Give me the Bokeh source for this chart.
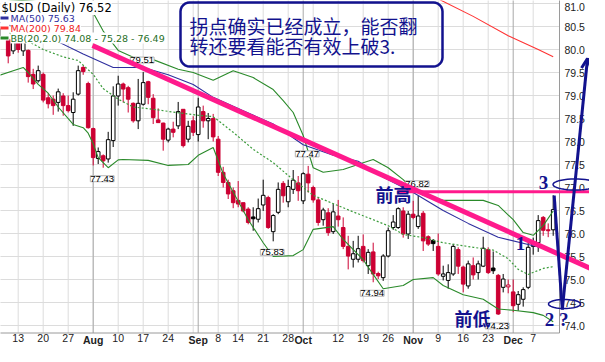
import numpy as np
import pandas as pd
from bokeh.plotting import figure
from bokeh.models import (FixedTicker, Label, Arrow, OpenHead, PolyAnnotation,
                          BoxAnnotation, ColumnDataSource)
from bokeh.embed import file_html
from bokeh.resources import INLINE

# ---------------- data ----------------
holidays = ["2009-09-07", "2009-11-26"]
dates = [d for d in pd.bdate_range("2009-07-07", "2009-12-11")
         if d.strftime("%Y-%m-%d") not in holidays]

opens = [80.30, 80.50, 80.22, 79.97, 80.22, 79.97, 79.98, 79.46, 79.32, 79.46,
         78.95, 78.92, 78.85, 78.99, 78.78, 78.63, 79.03, 79.61, 79.26, 78.28,
         77.63, 77.69, 77.62, 78.02, 78.99, 79.25, 79.17, 78.83, 78.45, 78.81,
         79.30, 78.94, 78.47, 78.40, 78.03, 78.27, 78.34, 78.70, 78.05, 78.45,
         78.15, 78.65, 78.45, 78.50, 78.05, 77.33, 77.11, 76.93, 76.72, 76.67,
         76.53, 76.36, 76.31, 76.62, 76.78, 76.04, 76.46, 77.09, 76.69, 76.96,
         77.10, 76.71, 77.29, 77.00, 76.73, 76.30, 76.45, 76.04, 76.38, 76.13,
         75.72, 75.44, 75.44, 75.72, 75.30, 75.60, 75.13, 75.04, 75.51, 76.13,
         76.13, 76.49, 75.99, 76.42, 76.15, 76.44, 75.93, 75.85, 75.72, 75.07,
         74.98, 75.12, 75.65, 75.27, 74.86, 75.30, 75.15, 75.29, 75.65, 75.25,
         75.09, 74.83, 74.84, 74.73, 74.46, 74.57, 74.83, 75.72, 75.80, 76.35,
         76.08, 76.08]
highs = [80.55, 80.60, 80.35, 80.30, 80.30, 80.28, 80.00, 79.58, 79.65, 79.50,
         79.05, 79.00, 79.15, 79.05, 79.00, 79.07, 79.65, 79.65, 79.30, 78.30,
         77.87, 77.72, 78.21, 79.20, 79.43, 79.28, 79.21, 78.85, 79.36, 79.51,
         79.32, 79.03, 78.72, 78.41, 78.30, 78.43, 78.86, 78.70, 78.45, 78.55,
         78.95, 78.78, 78.62, 78.60, 78.12, 77.45, 77.17, 77.00, 77.14, 76.67,
         76.57, 76.57, 76.76, 77.17, 76.82, 76.42, 77.11, 77.14, 77.17, 77.38,
         77.25, 77.33, 77.47, 77.04, 76.78, 76.56, 76.55, 76.64, 76.73, 76.35,
         75.95, 75.84, 75.95, 75.98, 75.66, 75.80, 75.17, 75.55, 76.13, 76.40,
         76.57, 76.57, 76.49, 76.71, 76.82, 76.49, 75.96, 75.88, 76.00, 75.30,
         75.33, 75.77, 75.70, 75.30, 75.41, 75.48, 75.41, 75.93, 75.70, 75.61,
         75.12, 75.12, 75.00, 75.00, 74.75, 74.83, 75.80, 75.91, 76.40, 76.38,
         76.22, 76.83]
lows = [80.04, 80.30, 79.70, 79.90, 79.93, 79.86, 79.28, 79.14, 79.28, 78.85,
        78.72, 78.58, 78.65, 78.56, 78.63, 78.34, 79.00, 79.45, 78.28, 77.48,
        77.51, 77.43, 77.54, 77.88, 78.78, 78.85, 78.63, 78.41, 78.27, 78.78,
        78.81, 78.38, 78.41, 77.80, 77.98, 78.09, 78.27, 77.87, 77.98, 78.12,
        78.00, 78.30, 78.05, 78.00, 77.25, 77.00, 76.75, 76.55, 76.57, 76.46,
        76.20, 76.06, 76.24, 76.49, 76.10, 75.83, 76.42, 76.67, 76.57, 76.86,
        76.71, 76.64, 76.89, 76.67, 76.17, 76.17, 75.95, 75.99, 76.15, 75.66,
        75.22, 75.26, 75.37, 75.37, 75.12, 74.94, 75.01, 74.97, 75.48, 76.08,
        76.10, 75.91, 75.88, 76.31, 76.10, 75.62, 75.73, 75.62, 75.08, 74.98,
        74.80, 75.08, 75.12, 74.72, 74.80, 75.00, 75.00, 75.27, 75.12, 75.12,
        74.23, 74.72, 74.70, 74.29, 74.32, 74.41, 74.79, 75.54, 75.60, 75.95,
        75.92, 75.95]
closes = [80.45, 80.35, 79.86, 80.21, 80.00, 80.15, 79.41, 79.25, 79.54, 78.90,
          78.82, 78.78, 79.08, 78.78, 78.67, 78.92, 79.54, 79.52, 78.30, 77.65,
          77.78, 77.58, 78.04, 78.99, 79.25, 79.14, 78.92, 78.45, 78.83, 79.28,
          78.96, 78.52, 78.41, 78.05, 78.27, 78.20, 78.65, 77.91, 78.33, 78.20,
          78.75, 78.45, 78.50, 78.10, 77.33, 77.11, 76.86, 76.67, 76.64, 76.49,
          76.24, 76.32, 76.54, 76.83, 76.13, 76.39, 76.96, 76.82, 77.02, 77.16,
          76.93, 77.30, 77.10, 76.73, 76.24, 76.51, 76.02, 76.47, 76.30, 75.72,
          75.51, 75.56, 75.67, 75.41, 75.59, 75.12, 75.08, 75.51, 76.06, 76.25,
          76.54, 75.99, 76.42, 76.35, 76.38, 75.84, 75.77, 75.78, 75.12, 75.12,
          75.15, 75.72, 75.29, 74.90, 75.34, 75.10, 75.34, 75.68, 75.15, 75.19,
          74.25, 75.01, 74.88, 74.43, 74.67, 74.78, 75.70, 75.80, 76.28, 76.07,
          76.06, 76.52]

ma50_idx = [0, 6, 11, 17, 23, 29, 34, 39, 43, 49, 55, 61, 67, 72, 77, 83, 89, 94, 100, 106, 111]
ma50_val = [80.60, 80.40, 80.22, 79.90, 79.61, 79.61, 79.45, 79.24, 78.96, 78.67, 78.38,
            77.93, 77.70, 77.57, 77.22, 76.89, 76.50, 76.22, 75.92, 75.76, 75.63]

ma200_idx = [80, 88, 95, 102, 108, 111]
ma200_val = [81.40, 81.10, 80.72, 80.30, 80.00, 79.84]

bb_up_idx = [0, 7, 12, 15, 19, 21, 24, 27, 31, 36, 39, 43, 47, 51, 55, 57, 59, 61, 63, 65,
             69, 73, 75, 78, 81, 83, 85, 89, 97, 100, 103, 105, 107, 109, 111]
bb_up_val = [81.10, 81.05, 81.00, 80.93, 80.80, 80.40, 79.98, 79.83, 79.78, 79.57,
             79.50, 79.33, 79.54, 79.39, 79.13, 78.89, 78.63, 78.13, 77.43, 77.33,
             77.39, 77.54, 77.61, 77.43, 77.17, 76.96, 76.83, 76.72, 76.72, 76.61,
             76.30, 76.02, 75.96, 76.17, 76.49]
bb_mid_idx = [0, 5, 9, 13, 16, 19, 21, 24, 27, 31, 35, 40, 43, 47, 51, 55, 59, 63, 67, 71,
              75, 78, 81, 85, 89, 95, 99, 102, 104, 106, 109, 111]
bb_mid_val = [80.45, 80.24, 80.00, 79.84, 79.76, 79.46, 79.15, 78.92, 78.75, 78.70,
              78.64, 78.57, 78.54, 78.20, 77.83, 77.54, 77.17, 76.83, 76.65, 76.47,
              76.30, 76.17, 75.98, 75.91, 75.80, 75.70, 75.64, 75.45, 75.22, 75.11,
              75.24, 75.28]
bb_lo_idx = [0, 3, 5, 6, 8, 10, 12, 15, 17, 18, 19, 20, 22, 24, 25, 30, 34, 38, 40, 43,
             45, 48, 50, 53, 55, 59, 61, 63, 67, 69, 73, 75, 77, 81, 83, 87, 89, 93, 97, 100,
             103, 107, 109, 111]
bb_lo_val = [79.43, 79.54, 79.61, 79.50, 79.24, 79.05, 78.75, 78.37, 78.30, 78.18,
             77.95, 77.65, 77.43, 77.60, 77.61, 77.59, 77.48, 77.50, 77.70, 77.87,
             77.30, 76.70, 76.30, 75.80, 75.50, 75.52, 75.65, 76.09, 76.15, 75.87,
             75.43, 75.11, 74.80, 74.87, 75.00, 75.04, 74.87, 74.67, 74.57, 74.36,
             74.33, 74.28, 74.22, 74.08]

week_grid = [4, 9, 14, 19, 24, 29, 34, 39, 44, 48, 53, 58, 63, 68, 73, 78, 83, 88, 93, 98, 102, 107]
month_grid = [19, 40, 61, 83, 103]
tick_idx = [4, 9, 14, 19, 24, 29, 34, 40, 44, 48, 53, 58, 61, 68, 73, 78, 83, 88, 93, 98, 103, 107]
tick_lab = ["13", "20", "27", "Aug", "10", "17", "24", "Sep", "8", "14", "21", "28", "Oct",
            "12", "19", "26", "Nov", "9", "16", "23", "Dec", "7"]
month_names = ["Aug", "Sep", "Oct", "Nov", "Dec"]
price_ticks = [74.0, 74.5, 75.0, 75.5, 76.0, 76.5, 77.0, 77.5, 78.0, 78.5, 79.0, 79.5, 80.0, 80.5, 81.0]
price_labels = ["74.0", "74.5", "75.0", "75.5", "76.0", "76.5", "77.0", "77.5", "78.0", "78.5",
                "79.0", "79.5", "80.0", "80.5", "81.0"]

high_marks = [29, 62, 84]
low_marks = [21, 55, 75, 100]

# ---------------- styling ----------------
NAVY = "#12128e"
PINK = "#ff1a8c"
RED = "#cc0033"
GREEN = "#2a8a2a"
BLUE = "#2e2e9e"
MAR = "#ff3333"


# map of the reference picture's pixel grid onto the data axes (layout only)
def X(px):
    return (px - 5.7) / 5.0


def Y(py):
    return 74.0 + (333.0 - py) / 46.0


XL, XR, YB, YT = X(4.3), X(567), Y(340.5), Y(0)   # plot area edges

p = figure(width=589, height=346, x_range=(X(8), X(597)), y_range=(Y(354), Y(8)),
           output_backend="svg", toolbar_location=None, y_axis_location="right",
           min_border_left=0, min_border_top=0, min_border_right=0, min_border_bottom=0)
p.background_fill_color = "white"
p.border_fill_color = "white"
p.outline_line_color = None
p.xgrid.visible = False
p.ygrid.visible = False

# axes drawn at the edges of the plot area
p.xaxis.fixed_location = YB
p.xaxis.ticker = FixedTicker(ticks=tick_idx)
p.xaxis.major_label_overrides = {i: ("" if lab in month_names else lab) for i, lab in zip(tick_idx, tick_lab)}
p.xaxis.major_tick_out = 0
p.xaxis.major_tick_in = 0
p.xaxis.minor_tick_line_color = None
p.xaxis.axis_line_color = None
p.xaxis.major_label_standoff = 1
p.xaxis.major_label_text_font = "Liberation Sans"
p.xaxis.major_label_text_font_size = "10.5px"
p.xaxis.major_label_text_color = "#222222"

p.yaxis.fixed_location = XR
p.yaxis.ticker = FixedTicker(ticks=price_ticks)
# the top label sits at the canvas edge; it is drawn separately a little lower
p.yaxis.major_label_overrides = {t: ("" if t == 81.0 else s) for t, s in zip(price_ticks, price_labels)}
p.yaxis.major_tick_out = 0
p.yaxis.major_tick_in = 0
p.yaxis.minor_tick_line_color = None
p.yaxis.axis_line_color = None
p.yaxis.major_label_standoff = 5
p.yaxis.major_label_text_font = "Liberation Sans"
p.yaxis.major_label_text_font_size = "10.5px"
p.yaxis.major_label_text_color = "#222222"
p.add_layout(Label(x=XR, y=price_ticks[-1], x_offset=5, y_offset=-3, text=price_labels[-1],
                   text_align="left", text_baseline="middle", text_font="Liberation Sans",
                   text_font_size="10.5px", text_color="#222222"))

# grid inside the plot area
p.segment(x0=week_grid, y0=[YB] * len(week_grid), x1=week_grid, y1=[YT] * len(week_grid),
          line_color="#dcdcdc", line_width=1)
p.segment(x0=[XL] * len(price_ticks), y0=price_ticks, x1=[XR] * len(price_ticks), y1=price_ticks,
          line_color="#dcdcdc", line_width=1)
p.segment(x0=month_grid, y0=[YB] * len(month_grid), x1=month_grid, y1=[YT] * len(month_grid),
          line_color="#a8a8a8", line_width=1)
p.line([XL, XL, XR, XR], [YT, YB, YB, YT], line_color="#9a9a9a", line_width=1)

# candles
o = np.array(opens); h = np.array(highs); l = np.array(lows); c = np.array(closes)
idx = np.arange(len(o))
prev = np.concatenate([[o[0]], c[:-1]])
line_col = np.where(c >= prev, "black", RED)
fill_col = np.where(c > o, "white", line_col)
src = ColumnDataSource(dict(x=idx, o=o, h=h, l=l, c=c,
                            top=np.maximum(o, c), bot=np.minimum(o, c),
                            lc=line_col, fc=fill_col, date=[d.strftime("%Y-%m-%d") for d in dates]))
p.segment(x0="x", y0="l", x1="x", y1="h", line_color="lc", line_width=1, source=src)
p.vbar(x="x", width=0.72, top="top", bottom="bot", fill_color="fc", line_color="lc",
       line_width=1, source=src)

# overlays
p.line(bb_up_idx, bb_up_val, line_color=GREEN, line_width=1.1)
p.line(bb_lo_idx, bb_lo_val, line_color=GREEN, line_width=1.1)
p.line(bb_mid_idx, bb_mid_val, line_color="#3c9c3c", line_width=1.2, line_dash="2 2")
p.line(ma50_idx, ma50_val, line_color=BLUE, line_width=1.1)
p.line(ma200_idx, ma200_val, line_color=MAR, line_width=1.1)

# high / low marks
for i in high_marks:
    p.add_layout(Label(x=i, y=highs[i], x_offset=-1, y_offset=12, text=f"{highs[i]:.2f}",
                       text_align="center", text_baseline="middle", text_font="Liberation Sans",
                       text_font_size="9.5px", text_color="black",
                       background_fill_color="white", border_line_color="#b5b5b5"))
for i in low_marks:
    p.add_layout(Label(x=i, y=lows[i], x_offset=-1, y_offset=-11, text=f"{lows[i]:.2f}",
                       text_align="center", text_baseline="middle", text_font="Liberation Sans",
                       text_font_size="9.5px", text_color="black",
                       background_fill_color="white", border_line_color="#b5b5b5"))

# legend
p.add_layout(BoxAnnotation(left=X(-5), right=X(17), top=Y(0), bottom=Y(48),
                           fill_color="white", fill_alpha=1.0, line_color=None))
leg_rows = [
    (f"$USD (Daily) {closes[-1]:.2f}", "black", "11.5px", 9, 15.5, None),
    (f"MA(50) {ma50_val[-1]:.2f}", BLUE, "9.5px", 18, 25.5, BLUE),
    (f"MA(200) {ma200_val[-1]:.2f}", "#ee2222", "9.5px", 18, 35.5, MAR),
    (f"BB(20,2.0) {bb_lo_val[-1]:.2f} - {bb_mid_val[-1]:.2f} - {bb_up_val[-1]:.2f}", "#1f6f1f",
     "9.5px", 18, 45.5, GREEN),
]
for txt, col, fs, px, py, lcol in leg_rows:
    p.add_layout(Label(x=X(px), y=Y(py), text=txt, text_align="left", text_baseline="middle",
                       text_font="DejaVu Sans", text_font_size=fs, text_color=col,
                       background_fill_color="white"))
    if lcol is not None:
        p.add_layout(Arrow(x_start=X(4), y_start=Y(py), x_end=X(16), y_end=Y(py), end=None,
                           line_color=lcol, line_width=3))

# drawn annotations
p.add_layout(Arrow(x_start=X(100), y_start=Y(53), x_end=X(605), y_end=Y(279), end=None,
                   line_color=PINK, line_width=5))
p.add_layout(Arrow(x_start=X(405), y_start=Y(199.3), x_end=X(605), y_end=Y(199.3), end=None,
                   line_color=PINK, line_width=3))
p.add_layout(Arrow(x_start=X(561.7), y_start=Y(203), x_end=X(569.8), y_end=Y(317), end=None,
                   line_color=NAVY, line_width=3))
p.add_layout(Arrow(x_start=X(569.8), y_start=Y(317), x_end=X(595), y_end=Y(66),
                   end=OpenHead(size=10, line_color=NAVY, line_width=3),
                   line_color=NAVY, line_width=3))


def ellipse_pts(cx, cy, rx, ry, n=40):
    t = np.linspace(0, 2 * np.pi, n)
    return [X(v) for v in cx + rx * np.cos(t)], [Y(v) for v in cy + ry * np.sin(t)]


for cx, cy, rx, ry in [(583, 192, 22.5, 5.5), (572, 311.5, 16, 4.5)]:
    ex, ey = ellipse_pts(cx, cy, rx, ry)
    p.add_layout(PolyAnnotation(xs=ex, ys=ey, fill_alpha=0, line_color=NAVY, line_alpha=1.0,
                                line_width=1.5))


def rrect(x0, y0, x1, y1, r, n=7):
    pts = []
    for cx, cy, a0, a1 in [(x1 - r, y0 + r, -90, 0), (x1 - r, y1 - r, 0, 90),
                           (x0 + r, y1 - r, 90, 180), (x0 + r, y0 + r, 180, 270)]:
        for t in np.linspace(np.radians(a0), np.radians(a1), n):
            pts.append((cx + r * np.cos(t), cy + r * np.sin(t)))
    return [X(a) for a, b in pts], [Y(b) for a, b in pts]


bx, by = rrect(188, 10, 450, 74, 9)
p.add_layout(PolyAnnotation(xs=bx, ys=by, fill_alpha=0, line_color=NAVY, line_alpha=1.0,
                            line_width=2.5))

note_lines = ["拐点确实已经成立，能否翻", "转还要看能否有效上破3."]
for txt, py in zip(note_lines, [33, 53]):
    p.add_layout(Label(x=X(197), y=Y(py), text=txt, text_align="left", text_baseline="middle",
                       text_font="Noto Sans CJK SC", text_font_size="19px", text_color=NAVY))

for txt, px, py, fnt, fs in [("前高", 401, 201, "Noto Sans CJK SC", "18px"),
                             ("前低", 480, 325, "Noto Sans CJK SC", "18px"),
                             ("3", 551, 190, "Liberation Serif", "19px"),
                             ("1", 528, 251, "Liberation Serif", "19px"),
                             ("2 ?", 564, 327, "Liberation Serif", "19px")]:
    p.add_layout(Label(x=X(px), y=Y(py), text=txt, text_align="center", text_baseline="middle",
                       text_font=fnt, text_font_size=fs, text_color=NAVY, text_font_style="bold"))

# bold month names on the date axis
for i, lab in zip(tick_idx, tick_lab):
    if lab in month_names:
        p.add_layout(Label(x=i, y=YB, y_offset=-1, text=lab, text_align="center",
                           text_baseline="top", text_font="Liberation Sans",
                           text_font_size="10.5px", text_font_style="bold", text_color="#222222"))

open("out.html", "w").write(file_html(p, INLINE))
